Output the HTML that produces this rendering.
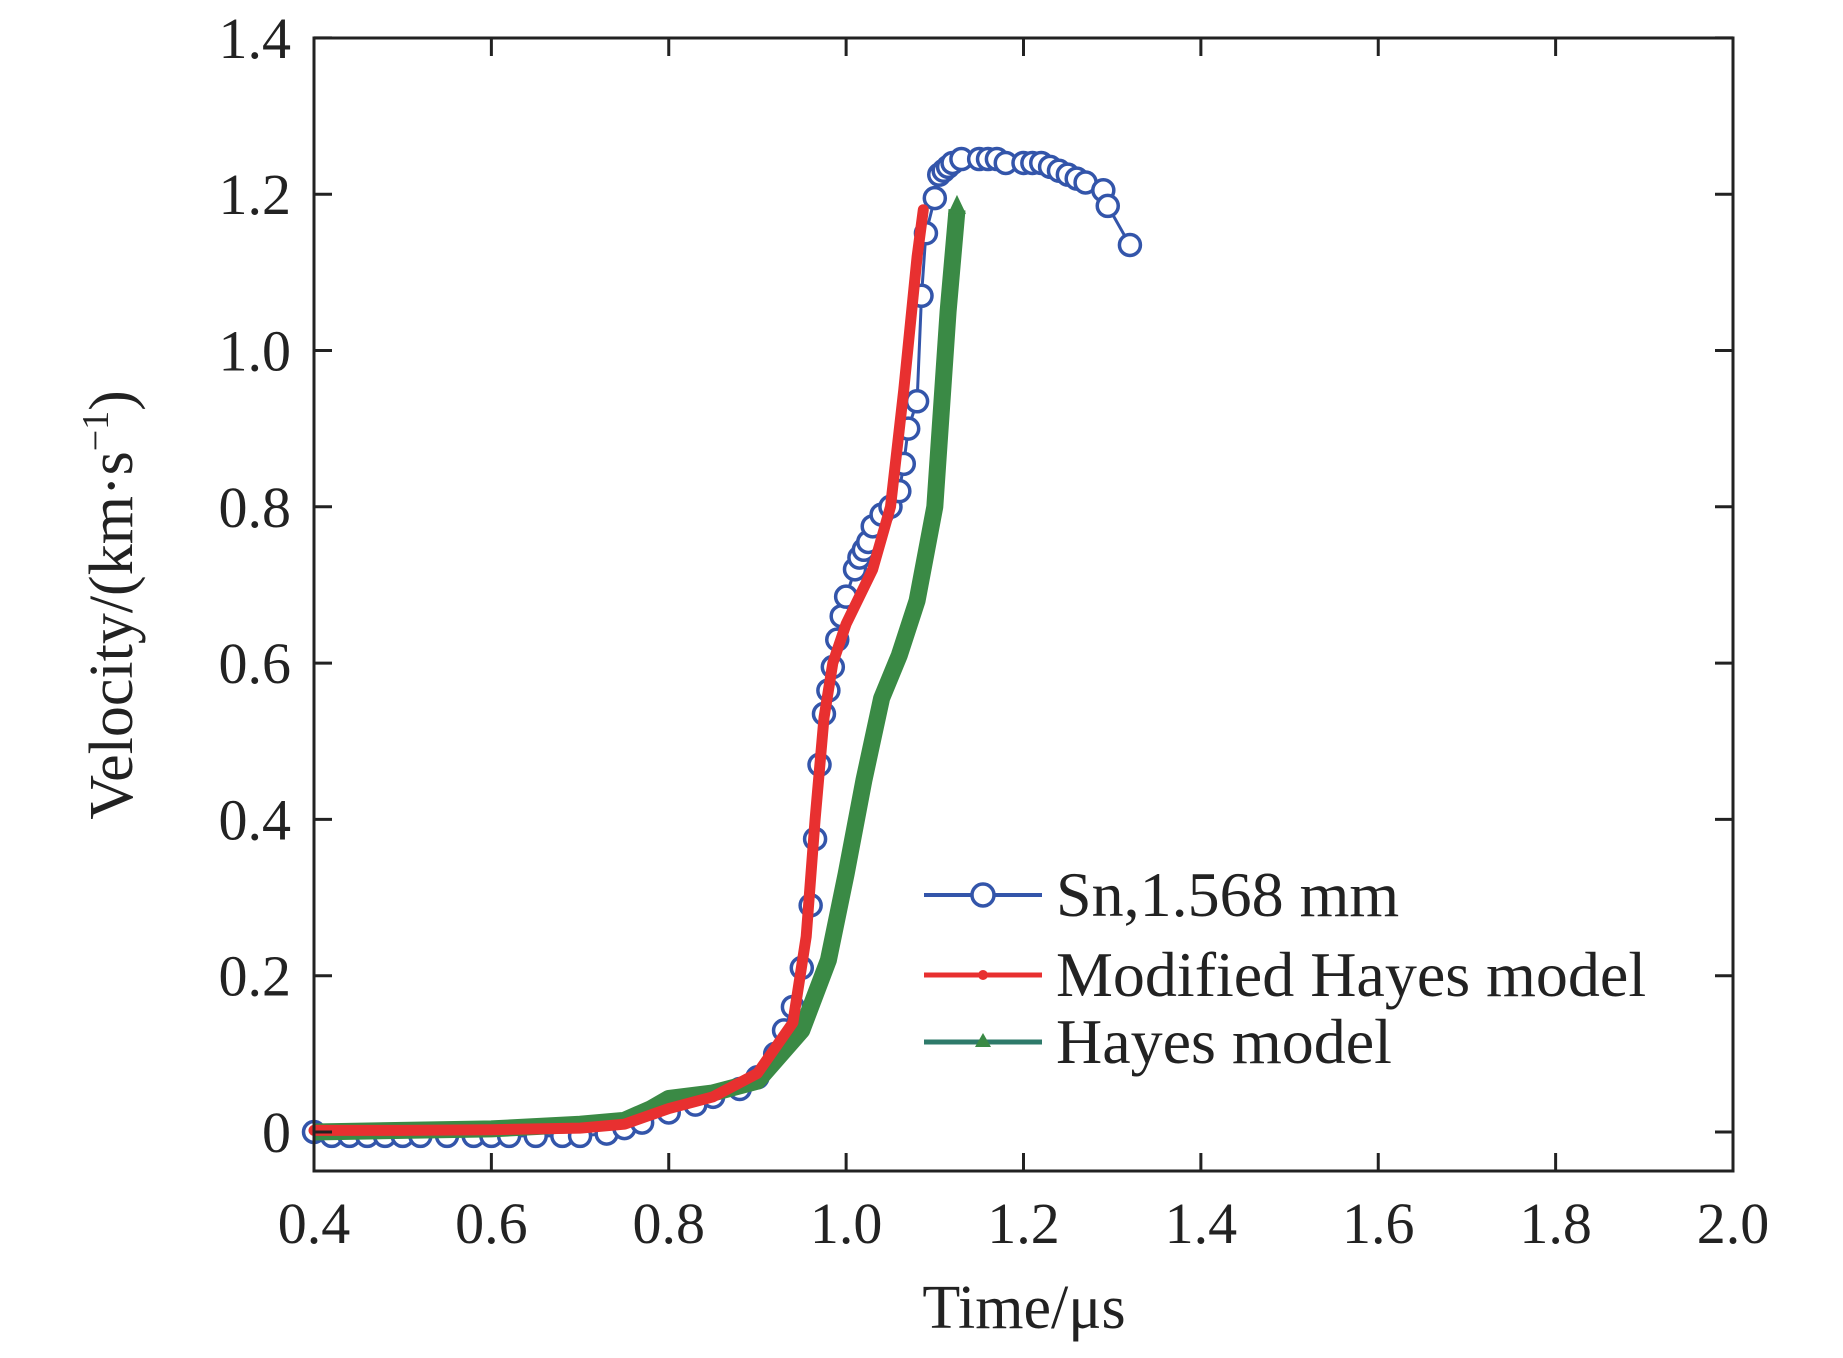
<!DOCTYPE html>
<html><head><meta charset="utf-8"><style>body{margin:0;background:#fff}svg{display:block}text{font-family:"Liberation Serif",serif;fill:#222}</style></head>
<body>
<svg id="chart" width="1843" height="1358" viewBox="0 0 1843 1358" xmlns="http://www.w3.org/2000/svg">
<g id="marks"></g>
<rect x="314" y="38" width="1419" height="1133" fill="none" stroke="#222" stroke-width="3"/>
<g id="ticks"></g>
<text x="1024" y="1328" font-size="62" text-anchor="middle">Time/μs</text>
<text transform="translate(132,605) rotate(-90)" font-size="62" text-anchor="middle">Velocity/(km·s<tspan font-size="38" dy="-24">−1</tspan><tspan dy="24">)</tspan></text>
<g>
<line x1="924" y1="895" x2="1042" y2="895" stroke="#3355aa" stroke-width="4"/>
<circle cx="983" cy="895" r="11" fill="#fff" stroke="#3355aa" stroke-width="3.5"/>
<text x="1056" y="916" font-size="64">Sn,1.568 mm</text>
<line x1="924" y1="975" x2="1042" y2="975" stroke="#e83030" stroke-width="5"/>
<circle cx="983" cy="975" r="5" fill="#e83030"/>
<text x="1056" y="996" font-size="64">Modified Hayes model</text>
<line x1="924" y1="1042" x2="1042" y2="1042" stroke="#2e7a6a" stroke-width="5"/>
<polygon points="983,1033 975,1047 991,1047" fill="#3a8a45"/>
<text x="1056" y="1063" font-size="64">Hayes model</text>
</g>
</svg>
<script>
const snX=[0.4,0.42,0.44,0.46,0.48,0.5,0.52,0.55,0.58,0.6,0.62,0.65,0.68,0.7,0.73,0.75,0.77,0.8,0.83,0.85,0.88,0.9,0.92,0.93,0.94,0.95,0.96,0.965,0.97,0.975,0.98,0.985,0.99,0.995,1.0,1.01,1.015,1.02,1.025,1.03,1.04,1.05,1.06,1.065,1.07,1.08,1.085,1.09,1.1,1.105,1.11,1.115,1.12,1.13,1.15,1.16,1.17,1.18,1.2,1.21,1.22,1.23,1.24,1.25,1.26,1.27,1.29,1.295,1.32];
const snY=[0,-0.005,-0.005,-0.005,-0.005,-0.005,-0.005,-0.005,-0.005,-0.005,-0.005,-0.005,-0.005,-0.005,-0.002,0.005,0.012,0.025,0.035,0.045,0.055,0.07,0.1,0.13,0.16,0.21,0.29,0.375,0.47,0.535,0.565,0.595,0.63,0.66,0.685,0.72,0.735,0.745,0.755,0.775,0.79,0.8,0.82,0.855,0.9,0.935,1.07,1.15,1.195,1.225,1.23,1.235,1.24,1.245,1.245,1.245,1.245,1.24,1.24,1.24,1.24,1.235,1.23,1.225,1.22,1.215,1.205,1.185,1.135];
const redX=[0.4,0.5,0.6,0.7,0.75,0.8,0.85,0.9,0.94,0.955,0.965,0.975,0.985,1.0,1.03,1.05,1.065,1.08,1.087];
const redY=[0.002,0.002,0.003,0.005,0.01,0.03,0.045,0.075,0.14,0.25,0.4,0.53,0.6,0.65,0.72,0.8,0.95,1.12,1.18];
const grnX=[0.4,0.5,0.6,0.7,0.75,0.78,0.8,0.85,0.9,0.95,0.98,1.0,1.02,1.04,1.06,1.08,1.1,1.115,1.125];
const grnY=[0,0.002,0.004,0.01,0.015,0.03,0.043,0.05,0.065,0.13,0.22,0.33,0.45,0.555,0.61,0.68,0.8,1.05,1.18];
const xTicks=[0.4,0.6,0.8,1.0,1.2,1.4,1.6,1.8,2.0];
const yTicks=[0,0.2,0.4,0.6,0.8,1.0,1.2,1.4];
const xLabels=["0.4","0.6","0.8","1.0","1.2","1.4","1.6","1.8","2.0"];
const yLabels=["0","0.2","0.4","0.6","0.8","1.0","1.2","1.4"];
const NS="http://www.w3.org/2000/svg";
const sx=v=>314+(v-0.4)/1.6*1419;
const sy=v=>1132-v/0.2*156.3;
const marks=document.getElementById('marks'),ticks=document.getElementById('ticks');
function mk(tag,attrs,parent){const e=document.createElementNS(NS,tag);for(const k in attrs)e.setAttribute(k,attrs[k]);parent.appendChild(e);return e;}
function pts(xs,ys){return xs.map((x,i)=>sx(x).toFixed(1)+','+sy(ys[i]).toFixed(1)).join(' ');}
let l=mk('polyline',{points:pts(snX,snY),fill:'none',stroke:'#3355aa','stroke-width':3},marks);


snX.forEach((x,i)=>{const c=mk('circle',{cx:sx(x),cy:sy(snY[i]),r:10.5,fill:'#fff',stroke:'#3355aa','stroke-width':3.5},marks);

});
let g=mk('polyline',{points:pts(grnX,grnY),fill:'none',stroke:'#3a8a45','stroke-width':17,'stroke-linejoin':'round'},marks);


const tx=sx(grnX[grnX.length-1]),ty=sy(grnY[grnY.length-1]);
let tri=mk('polygon',{points:`${tx},${ty-15} ${tx-9},${ty+4} ${tx+9},${ty+4}`,fill:'#3a8a45'},marks);


let r=mk('polyline',{points:pts(redX,redY),fill:'none',stroke:'#e83030','stroke-width':11,'stroke-linejoin':'round','stroke-linecap':'round'},marks);


xTicks.forEach((v,i)=>{const x=sx(v);
mk('line',{x1:x,y1:1171,x2:x,y2:1153,stroke:'#222','stroke-width':3},ticks);
mk('line',{x1:x,y1:38,x2:x,y2:56,stroke:'#222','stroke-width':3},ticks);
const t=mk('text',{x:x,y:1243,'font-size':58,'text-anchor':'middle'},ticks);t.textContent=xLabels[i];

});
yTicks.forEach((v,i)=>{const y=sy(v);
mk('line',{x1:314,y1:y,x2:332,y2:y,stroke:'#222','stroke-width':3},ticks);
mk('line',{x1:1733,y1:y,x2:1715,y2:y,stroke:'#222','stroke-width':3},ticks);
const t=mk('text',{x:291,y:y+20,'font-size':58,'text-anchor':'end'},ticks);t.textContent=yLabels[i];

});
</script>
</body></html>
